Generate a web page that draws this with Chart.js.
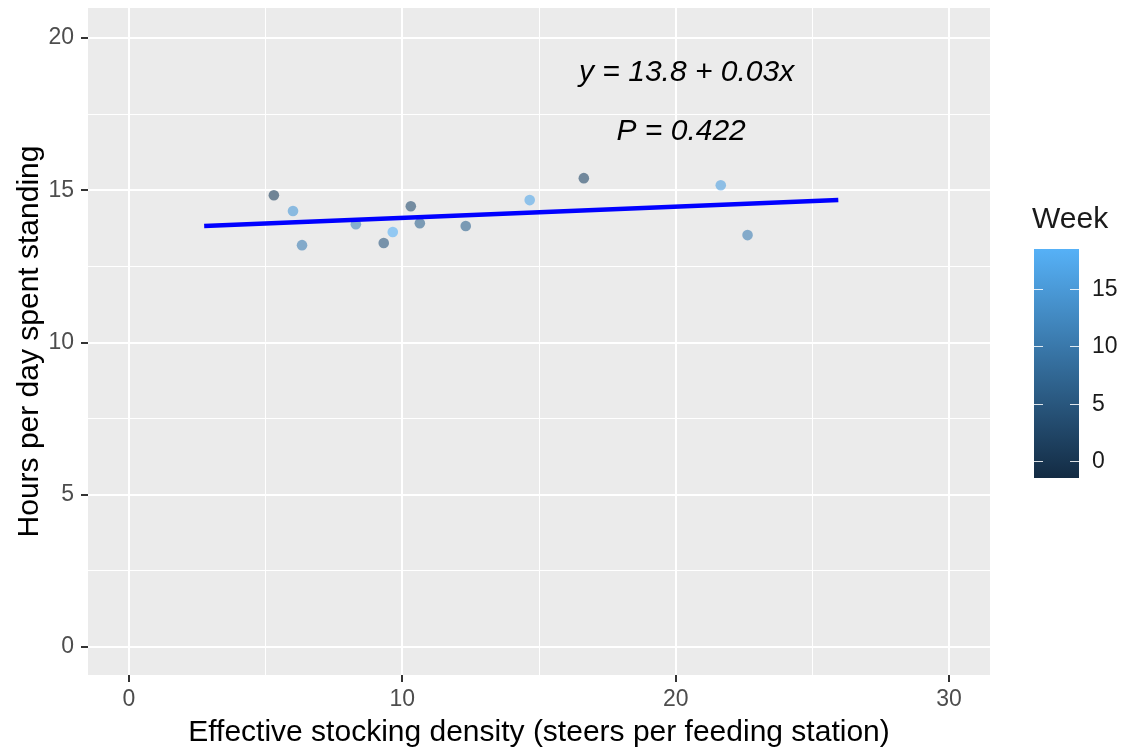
<!DOCTYPE html>
<html>
<head>
<meta charset="utf-8">
<script src="https://cdn.jsdelivr.net/npm/chart.js@4/dist/chart.umd.min.js"></script>
<style>
  html, body { margin: 0; padding: 0; background: #ffffff; }
  #wrap { width: 1129px; height: 753px; }
</style>
</head>
<body>
<div id="wrap"><canvas id="c" width="1129" height="753"></canvas></div>
<script>
// ---- data ----
const densityX = [5.30, 6.00, 6.33, 8.30, 9.32, 9.65, 10.31, 10.64, 12.32, 14.66, 16.64, 21.65, 22.63];
const standingY = [14.84, 14.32, 13.20, 13.89, 13.27, 13.63, 14.48, 13.92, 13.83, 14.68, 15.40, 15.17, 13.53];
const weekValues = [1.5, 15, 11, 12, 5, 18.5, 3.5, 7, 7, 17, 2.5, 16, 11];
const fitLineX = [2.75, 25.95];
const fitLineY = [13.83, 14.68];
const xTickValues = [0, 5, 10, 15, 20, 25, 30];
const yTickValues = [0, 2.5, 5, 7.5, 10, 12.5, 15, 17.5, 20];
const weekTickValues = [0, 5, 10, 15];
const weekLimits = [-1.5, 18.5];
const annotationTexts = ['y = 13.8 + 0.03x', 'P = 0.422'];
const annotationX = [20.4, 20.2];
const annotationY = [18.88, 16.94];

// ---- colour scale (ggplot default continuous) ----
const lowCol = [19, 43, 67];    // #132B43
const highCol = [86, 177, 247]; // #56B1F7
function weekColour(w, a) {
  const t = (w - weekLimits[0]) / (weekLimits[1] - weekLimits[0]);
  const c = lowCol.map((v, i) => Math.round(v + (highCol[i] - v) * t));
  return `rgba(${c[0]},${c[1]},${c[2]},${a})`;
}

const pointData = densityX.map((x, i) => ({ x: x, y: standingY[i] }));
const pointColours = weekValues.map(w => weekColour(w, 0.6));
const lineData = fitLineX.map((x, i) => ({ x: x, y: fitLineY[i] }));

const panelBg = {
  id: 'panelBg',
  beforeDraw(chart) {
    const { ctx, chartArea: a } = chart;
    ctx.save();
    ctx.fillStyle = '#EBEBEB';
    ctx.fillRect(a.left, a.top, a.right - a.left, a.bottom - a.top);
    ctx.restore();
  }
};

const annotations = {
  id: 'annotations',
  afterDatasetsDraw(chart) {
    const { ctx, scales } = chart;
    ctx.save();
    ctx.fillStyle = '#000000';
    ctx.font = 'italic 30px "Liberation Sans", Arial, sans-serif';
    ctx.textAlign = 'center';
    ctx.textBaseline = 'middle';
    annotationTexts.forEach((t, i) => {
      ctx.fillText(t, scales.x.getPixelForValue(annotationX[i]), scales.y.getPixelForValue(annotationY[i]));
    });
    ctx.restore();
  }
};

const colourBar = {
  id: 'colourBar',
  afterDraw(chart) {
    const ctx = chart.ctx;
    const left = 1034, right = 1079, top = 249, bottom = 478;
    ctx.save();
    ctx.fillStyle = '#1A1A1A';
    ctx.font = '30px "Liberation Sans", Arial, sans-serif';
    ctx.textAlign = 'left';
    ctx.textBaseline = 'middle';
    ctx.fillText('Week', 1032, 220);
    const g = ctx.createLinearGradient(0, bottom, 0, top);
    g.addColorStop(0, weekColour(weekLimits[0], 1));
    g.addColorStop(1, weekColour(weekLimits[1], 1));
    ctx.fillStyle = g;
    ctx.fillRect(left, top, right - left, bottom - top);
    const yOf = w => bottom - (w - weekLimits[0]) / (weekLimits[1] - weekLimits[0]) * (bottom - top);
    ctx.strokeStyle = 'rgba(255,255,255,0.85)';
    ctx.lineWidth = 1.2;
    ctx.font = '23px "Liberation Sans", Arial, sans-serif';
    ctx.fillStyle = '#1A1A1A';
    weekTickValues.forEach(w => {
      const y = Math.round(yOf(w)) + 0.5;
      ctx.beginPath();
      ctx.moveTo(left, y); ctx.lineTo(left + 9, y);
      ctx.moveTo(right - 9, y); ctx.lineTo(right, y);
      ctx.stroke();
      ctx.fillText(String(w), 1092, y);
    });
    ctx.restore();
  }
};

new Chart(document.getElementById('c'), {
  type: 'scatter',
  data: {
    datasets: [
      {
        type: 'line',
        data: lineData,
        borderColor: '#0000FF',
        borderWidth: 4.5,
        pointRadius: 0,
        fill: false,
        tension: 0,
        order: 0
      },
      {
        data: pointData,
        backgroundColor: pointColours,
        borderColor: 'rgba(0,0,0,0)',
        borderWidth: 0,
        pointRadius: 5.3,
        order: 1
      }
    ]
  },
  options: {
    responsive: false,
    animation: false,
    layout: { padding: { left: 0, right: 139, top: 8, bottom: 0 } },
    plugins: { legend: { display: false }, tooltip: { enabled: false } },
    scales: {
      x: {
        type: 'linear',
        min: -1.5, max: 31.5,
        afterBuildTicks(s) { s.ticks = xTickValues.map(v => ({ value: v })); },
        afterFit(s) { s.height = 78; s.paddingLeft = 0; s.paddingRight = 0; },
        grid: {
          color: '#FFFFFF',
          lineWidth: c => (c.tick && c.tick.value % 10 === 0) ? 2 : 1,
          tickColor: c => (c.tick && c.tick.value % 10 === 0) ? '#333333' : 'rgba(0,0,0,0)',
          tickLength: 7,
          tickWidth: 2
        },
        border: { display: false },
        ticks: {
          color: '#4D4D4D',
          font: { family: '"Liberation Sans", Arial, sans-serif', size: 23 },
          padding: 4,
          maxRotation: 0,
          callback: v => (v % 10 === 0 ? String(v) : '')
        },
        title: {
          display: true,
          text: 'Effective stocking density (steers per feeding station)',
          color: '#000000',
          font: { family: '"Liberation Sans", Arial, sans-serif', size: 30 },
          padding: { top: 0, bottom: 2 }
        }
      },
      y: {
        type: 'linear',
        min: -0.92, max: 20.99,
        afterBuildTicks(s) { s.ticks = yTickValues.map(v => ({ value: v })); },
        afterFit(s) { s.width = 88; s.paddingTop = 0; s.paddingBottom = 0; },
        grid: {
          color: '#FFFFFF',
          lineWidth: c => (c.tick && c.tick.value % 5 === 0) ? 2 : 1,
          tickColor: c => (c.tick && c.tick.value % 5 === 0) ? '#333333' : 'rgba(0,0,0,0)',
          tickLength: 7,
          tickWidth: 2
        },
        border: { display: false },
        ticks: {
          color: '#4D4D4D',
          font: { family: '"Liberation Sans", Arial, sans-serif', size: 23 },
          padding: 7,
          callback: v => (v % 5 === 0 ? String(v) : '')
        },
        title: {
          display: true,
          text: 'Hours per day spent standing',
          color: '#000000',
          font: { family: '"Liberation Sans", Arial, sans-serif', size: 30 },
          padding: { top: 12, bottom: 0 }
        }
      }
    }
  },
  plugins: [panelBg, annotations, colourBar]
});
</script>
</body>
</html>
